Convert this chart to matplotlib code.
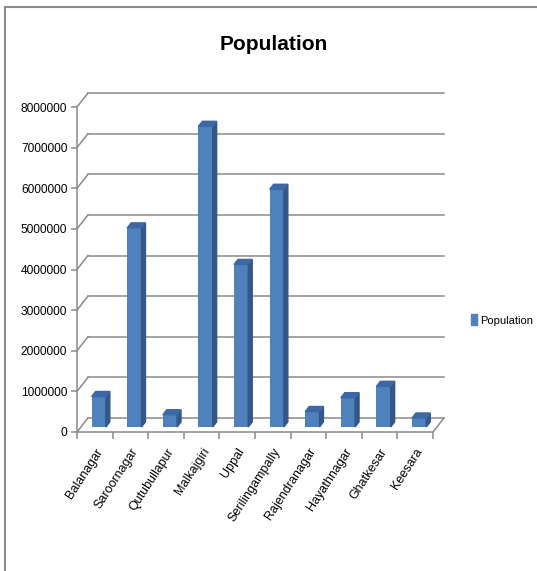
import matplotlib
matplotlib.use("Agg")
import matplotlib.pyplot as plt
from matplotlib.patches import Polygon, Patch
from matplotlib.lines import Line2D

# data
places = ["Balanagar", "Saroornagar", "Qutubullapur", "Malkajgiri", "Uppal",
          "Serilingampally", "Rajendranagar", "Hayathnagar", "Ghatkesar", "Keesara"]
population = [750000, 4900000, 300000, 7400000, 4000000,
              5850000, 380000, 720000, 1000000, 220000]
yticks = [0, 1000000, 2000000, 3000000, 4000000, 5000000, 6000000, 7000000, 8000000]

plt.rcParams["font.family"] = ["Liberation Sans", "DejaVu Sans"]

W, H = 537, 571
fig = plt.figure(figsize=(W / 100, H / 100), dpi=100)

# front plane of the fake 3d box, in pixels
left, right, top, bottom = 77, 433, 107, 432
ax = fig.add_axes([left / W, 1 - bottom / H, (right - left) / W, (bottom - top) / H])
ax.set_xlim(0, len(places))
ax.set_ylim(0, 8000000)

sx = (right - left) / len(places)   # px per category
sy = (bottom - top) / 8000000       # px per unit
DX = 11 / sx                         # depth of the box in data units
DY = 14 / sy

grid = "#8a8a8a"
# back wall gridlines and side wall diagonals
for t in yticks:
    ax.plot([DX, len(places) + DX], [t + DY, t + DY], color=grid, lw=1.1,
            clip_on=False, zorder=1)
    ax.plot([0, DX], [t, t + DY], color=grid, lw=1.1, clip_on=False, zorder=1)
ax.plot([len(places), len(places) + DX], [0, DY], color=grid, lw=1.1,
        clip_on=False, zorder=1)

# bars: front face + side + top
f1, f2 = 0.36, 0.72
bw = 0.40
front, side, topc = "#4f81bd", "#34578a", "#3e68a3"
for i, v in enumerate(population):
    x0 = i + 0.5 - bw / 2 + f1 * DX
    y0 = f1 * DY
    ddx, ddy = (f2 - f1) * DX, (f2 - f1) * DY
    ax.bar(x0, v, width=bw, bottom=y0, align="edge", color=front,
           zorder=3, clip_on=False)
    ax.add_patch(Polygon([(x0 + bw, y0), (x0 + bw + ddx, y0 + ddy),
                          (x0 + bw + ddx, y0 + ddy + v), (x0 + bw, y0 + v)],
                         closed=True, color=side, zorder=3, clip_on=False))
    ax.add_patch(Polygon([(x0, y0 + v), (x0 + bw, y0 + v),
                          (x0 + bw + ddx, y0 + ddy + v), (x0 + ddx, y0 + ddy + v)],
                         closed=True, color=topc, zorder=3, clip_on=False))

for s in ["top", "right"]:
    ax.spines[s].set_visible(False)
for s in ["left", "bottom"]:
    ax.spines[s].set_color(grid)
    ax.spines[s].set_linewidth(1.1)
ax.patch.set_alpha(0)

ax.set_yticks(yticks)
ax.set_yticklabels([str(t) for t in yticks], fontsize=8.6)
ax.tick_params(axis="y", length=4, width=1.1, color=grid, pad=3)

ax.set_xticks(range(len(places) + 1), minor=True)
ax.set_xticks([i + 0.5 for i in range(len(places))])
ax.set_xticklabels(places, rotation=57, ha="right", va="top",
                   rotation_mode="anchor", fontsize=9)
ax.tick_params(axis="x", which="major", length=0, pad=10)
ax.tick_params(axis="x", which="minor", length=5, width=1.1, color=grid)

fig.text(274 / W, 1 - 45 / H, "Population", ha="center", va="center",
         fontsize=15, fontweight="bold")

fig.legend(handles=[Patch(color=front, label="Population")],
           loc="center left", bbox_to_anchor=(471 / W, 1 - 320 / H),
           frameon=False, fontsize=8, handlelength=0.5, handleheight=1.1,
           handletextpad=0.3, borderaxespad=0, borderpad=0)

# outer frame (top and left only are visible)
fig.add_artist(Line2D([5 / W, 1], [1 - 6.5 / H, 1 - 6.5 / H], color="#8c8c8c",
                      lw=1.5, transform=fig.transFigure))
fig.add_artist(Line2D([5 / W, 5 / W], [0, 1 - 6.5 / H], color="#8c8c8c",
                      lw=1.5, transform=fig.transFigure))

fig.savefig("out.png", dpi=100)
